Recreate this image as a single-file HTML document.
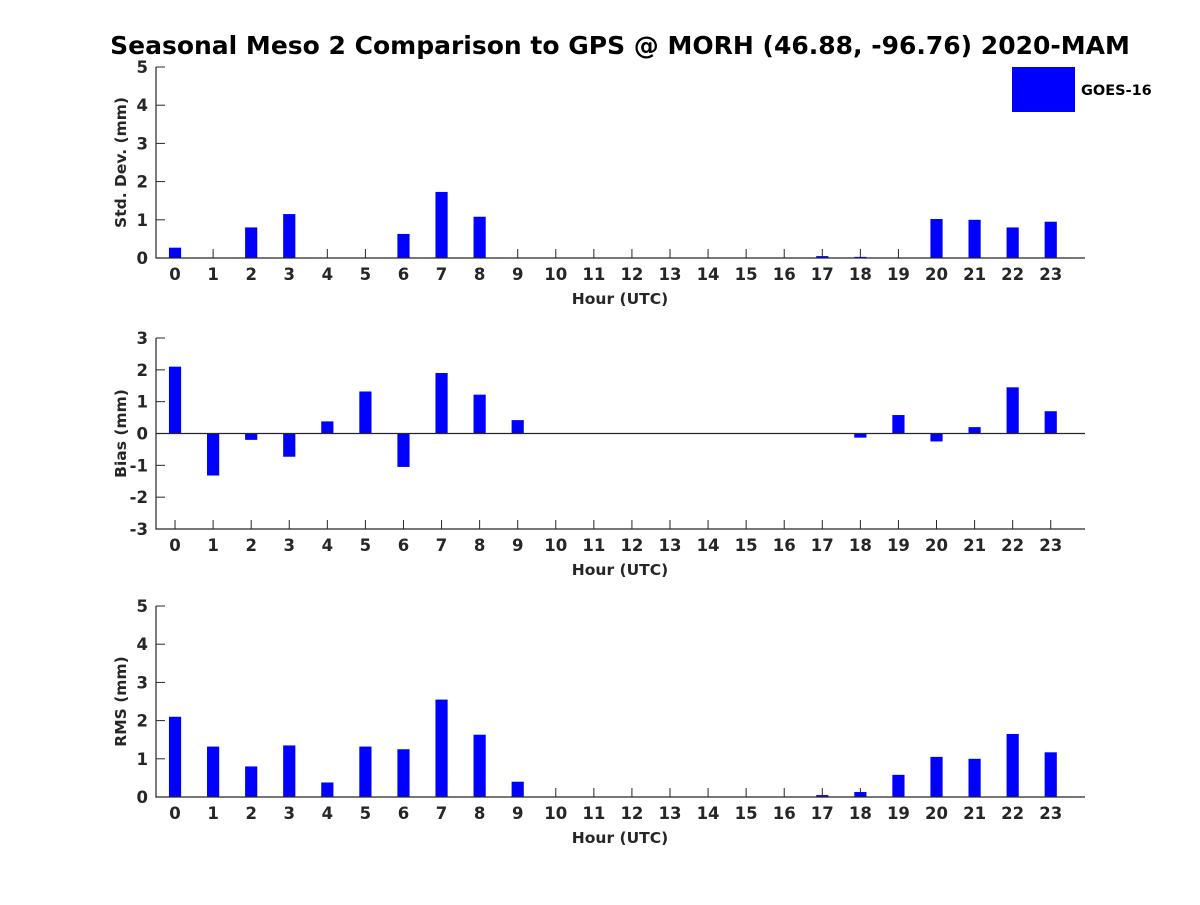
<!DOCTYPE html>
<html><head><meta charset="utf-8"><style>body{margin:0;background:#fff}svg{font-family:"DejaVu Sans","Liberation Sans",sans-serif;font-weight:bold}</style></head>
<body>
<svg id="c" width="1200" height="900">
<text x="620" y="54" text-anchor="middle" font-size="25" fill="#000">Seasonal Meso 2 Comparison to GPS @ MORH (46.88, -96.76) 2020-MAM</text>
<g>
<rect x="1012" y="67" width="63" height="45" fill="#0000ff"/>
<text x="1081" y="95" font-size="14.5" fill="#000">GOES-16</text>
</g>
</svg>
<script>
const hours=[0,1,2,3,4,5,6,7,8,9,10,11,12,13,14,15,16,17,18,19,20,21,22,23];
const stdVals=[0.27,0,0.8,1.15,0,0,0.63,1.73,1.08,0,0,0,0,0,0,0,0,0.05,0.03,0,1.02,1.0,0.8,0.95];
const biasVals=[2.1,-1.32,-0.2,-0.73,0.38,1.32,-1.05,1.9,1.22,0.42,0,0,0,0,0,0,0,0,-0.13,0.58,-0.25,0.2,1.45,0.7];
const rmsVals=[2.1,1.32,0.8,1.35,0.38,1.32,1.25,2.55,1.63,0.4,0,0,0,0,0,0,0,0.05,0.13,0.58,1.05,1.0,1.65,1.17];
const stdTicks=[0,1,2,3,4,5];
const biasTicks=[-3,-2,-1,0,1,2,3];
const rmsTicks=[0,1,2,3,4,5];
const svg=document.getElementById('c');
const NS='http://www.w3.org/2000/svg';
function mk(t,a){const e=document.createElementNS(NS,t);for(const k in a)e.setAttribute(k,a[k]);svg.appendChild(e);return e;}
const X0=156,X1=1085,XMIN=-0.5,XMAX=23.9;
const xs=v=>X0+(v-XMIN)/(XMAX-XMIN)*(X1-X0);
function panel(name,top,bot,ymin,ymax,ticks,vals,label){
  const ys=v=>bot-(v-ymin)/(ymax-ymin)*(bot-top);
  const bw=xs(0.32)-xs(0);
  ticks.forEach(t=>{
    mk('line',{x1:X0,x2:X0+9,y1:ys(t),y2:ys(t),stroke:'#262626'});
    const tx=mk('text',{x:X0-8,y:ys(t)+6,'text-anchor':'end','font-size':16.5,fill:'#262626'});
    tx.textContent=t;
    
    
  });
  hours.forEach(h=>{
    mk('line',{x1:xs(h),x2:xs(h),y1:bot,y2:bot-9,stroke:'#262626'});
    const tx=mk('text',{x:xs(h),y:bot+22,'text-anchor':'middle','font-size':16.5,fill:'#262626'});
    tx.textContent=h;
    
    
  });
  vals.forEach((v,i)=>{
    const y0=ys(0),y1=ys(v);
    const r=mk('rect',{x:xs(hours[i])-bw/2,y:Math.min(y0,y1),width:bw,height:Math.abs(y1-y0),fill:'#0000ff'});
    
    
  });
  const ax=mk('path',{d:`M${X0},${top}V${bot}H${X1}`,stroke:'#262626',fill:'none','stroke-width':1.2});
  
  
  if(ymin<0){const z=mk('line',{x1:X0,x2:X1,y1:ys(0),y2:ys(0),stroke:'#262626','stroke-width':1.2});
    }
  const xl=mk('text',{x:620,y:bot+46,'text-anchor':'middle','font-size':15.5,fill:'#262626'});
  xl.textContent='Hour (UTC)';
  
  
  const cy=(top+bot)/2;
  const yl=mk('text',{x:126,y:cy,'text-anchor':'middle','font-size':15.5,fill:'#262626',transform:`rotate(-90 126 ${cy})`});
  yl.textContent=label;
  
  
}
panel('std',67,258,0,5,stdTicks,stdVals,'Std. Dev. (mm)');
panel('bias',338,529,-3,3,biasTicks,biasVals,'Bias (mm)');
panel('rms',606,797,0,5,rmsTicks,rmsVals,'RMS (mm)');
</script>
</body></html>
